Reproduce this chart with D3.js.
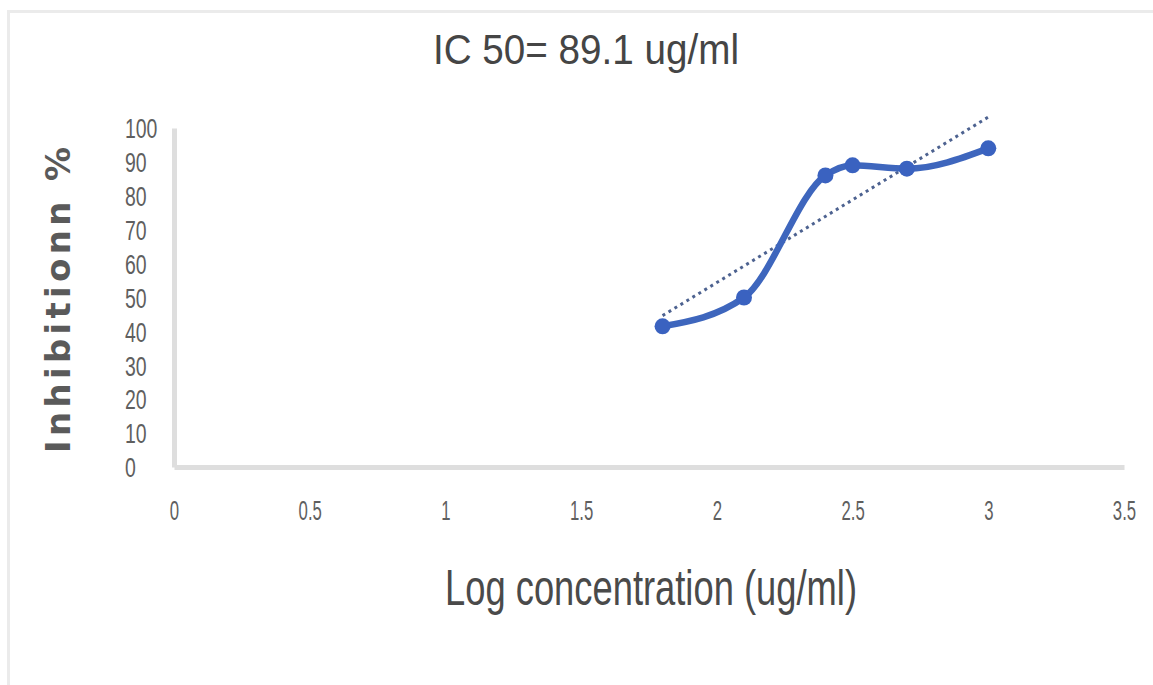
<!DOCTYPE html>
<html>
<head>
<meta charset="utf-8">
<script src="https://cdn.jsdelivr.net/npm/d3@7"></script>
<style>
  body { margin: 0; background: #fff; }
  svg { display: block; }
</style>
</head>
<body>
<div id="chart"></div>
<script>
// data
var logConc = [1.8, 2.1, 2.4, 2.5, 2.7, 3.0];
var inhibition = [41.5, 50, 86, 89, 88, 94];
var xTicks = [0, 0.5, 1, 1.5, 2, 2.5, 3, 3.5];
var yTicks = [0, 10, 20, 30, 40, 50, 60, 70, 80, 90, 100];

var svgWidth = 1153;
var svgHeight = 685;

var svg = d3.select("#chart")
    .append("svg")
    .attr("width", svgWidth)
    .attr("height", svgHeight);

// faint outer chart border (top + left visible)
svg.append("rect")
    .attr("x", 8.5)
    .attr("y", 11.5)
    .attr("width", svgWidth + 20)
    .attr("height", svgHeight + 20)
    .attr("fill", "none")
    .attr("stroke", "#ebebeb")
    .attr("stroke-width", 3);

var x = d3.scaleLinear().domain([0, 3.5]).range([174, 1124]);
var y = d3.scaleLinear().domain([0, 100]).range([467, 128]);

// squeeze text horizontally like the reference
function squeeze(sel, f) {
    sel.each(function () {
        var w = this.getComputedTextLength();
        d3.select(this)
            .attr("textLength", w * f)
            .attr("lengthAdjust", "spacingAndGlyphs");
    });
}

// axes
var yAxis = svg.append("g")
    .attr("transform", `translate(${x(0)},0)`)
    .call(d3.axisLeft(y).tickValues(yTicks).tickSize(0).tickFormat(d3.format("d")));

var xAxis = svg.append("g")
    .attr("transform", `translate(0,${y(0)})`)
    .call(d3.axisBottom(x).tickValues(xTicks).tickSize(0).tickFormat(d => String(d)));

[xAxis, yAxis].forEach(function (g) {
    g.select(".domain")
        .attr("stroke", "#dedede")
        .attr("stroke-width", 5);
    g.selectAll("text")
        .attr("font-family", "Liberation Sans, Arial, sans-serif")
        .attr("font-size", 27)
        .attr("fill", "#5f5f5f");
});

yAxis.selectAll("text")
    .attr("x", 125 - x(0))
    .attr("dy", "0.36em")
    .attr("text-anchor", "start");
xAxis.selectAll("text")
    .attr("y", 510 - y(0))
    .attr("dy", "0.36em");

squeeze(yAxis.selectAll("text"), 0.72);
squeeze(xAxis.selectAll("text"), 0.62);

// linear trendline from the data
var data = logConc.map((d, i) => ({x: d, y: inhibition[i]}));
var mx = d3.mean(data, d => d.x), my = d3.mean(data, d => d.y);
var slope = d3.sum(data, d => (d.x - mx) * (d.y - my)) / d3.sum(data, d => (d.x - mx) * (d.x - mx));
var icpt = my - slope * mx;
var xEnds = d3.extent(logConc);

svg.append("line")
    .attr("x1", x(xEnds[0]))
    .attr("y1", y(icpt + slope * xEnds[0]))
    .attr("x2", x(xEnds[1]))
    .attr("y2", y(icpt + slope * xEnds[1]))
    .attr("stroke", "#4d6290")
    .attr("stroke-width", 3)
    .attr("stroke-dasharray", "3,4");

// smoothed series line + markers
var line = d3.line()
    .x(d => x(d.x))
    .y(d => y(d.y))
    .curve(d3.curveMonotoneX);
svg.append("path")
    .datum(data)
    .attr("d", line)
    .attr("fill", "none")
    .attr("stroke", "#3e66bd")
    .attr("stroke-width", 6.5)
    .attr("stroke-linejoin", "round");

svg.selectAll("circle.pt")
    .data(data)
    .enter()
    .append("circle")
    .attr("class", "pt")
    .attr("cx", d => x(d.x))
    .attr("cy", d => y(d.y))
    .attr("r", 8)
    .attr("fill", "#3a62c0");

// title
svg.append("text")
    .attr("x", 586)
    .attr("y", 64)
    .attr("text-anchor", "middle")
    .attr("font-family", "Liberation Sans, Arial, sans-serif")
    .attr("font-size", 43)
    .attr("fill", "#454545")
    .attr("textLength", 306)
    .attr("lengthAdjust", "spacingAndGlyphs")
    .text("IC 50= 89.1 ug/ml");

// x axis label
svg.append("text")
    .attr("x", 651)
    .attr("y", 605)
    .attr("text-anchor", "middle")
    .attr("font-family", "Liberation Sans, Arial, sans-serif")
    .attr("font-size", 50)
    .attr("fill", "#4a4a4a")
    .attr("textLength", 412)
    .attr("lengthAdjust", "spacingAndGlyphs")
    .text("Log concentration (ug/ml)");

// y axis label
svg.append("text")
    .attr("transform", "translate(70,300) rotate(-90)")
    .attr("text-anchor", "middle")
    .attr("font-family", "DejaVu Sans, Verdana, sans-serif")
    .attr("font-weight", "bold")
    .attr("font-size", 34)
    .attr("fill", "#5a5a5a")
    .attr("textLength", 306)
    .attr("lengthAdjust", "spacing")
    .text("Inhibitionn %");
</script>
</body>
</html>
